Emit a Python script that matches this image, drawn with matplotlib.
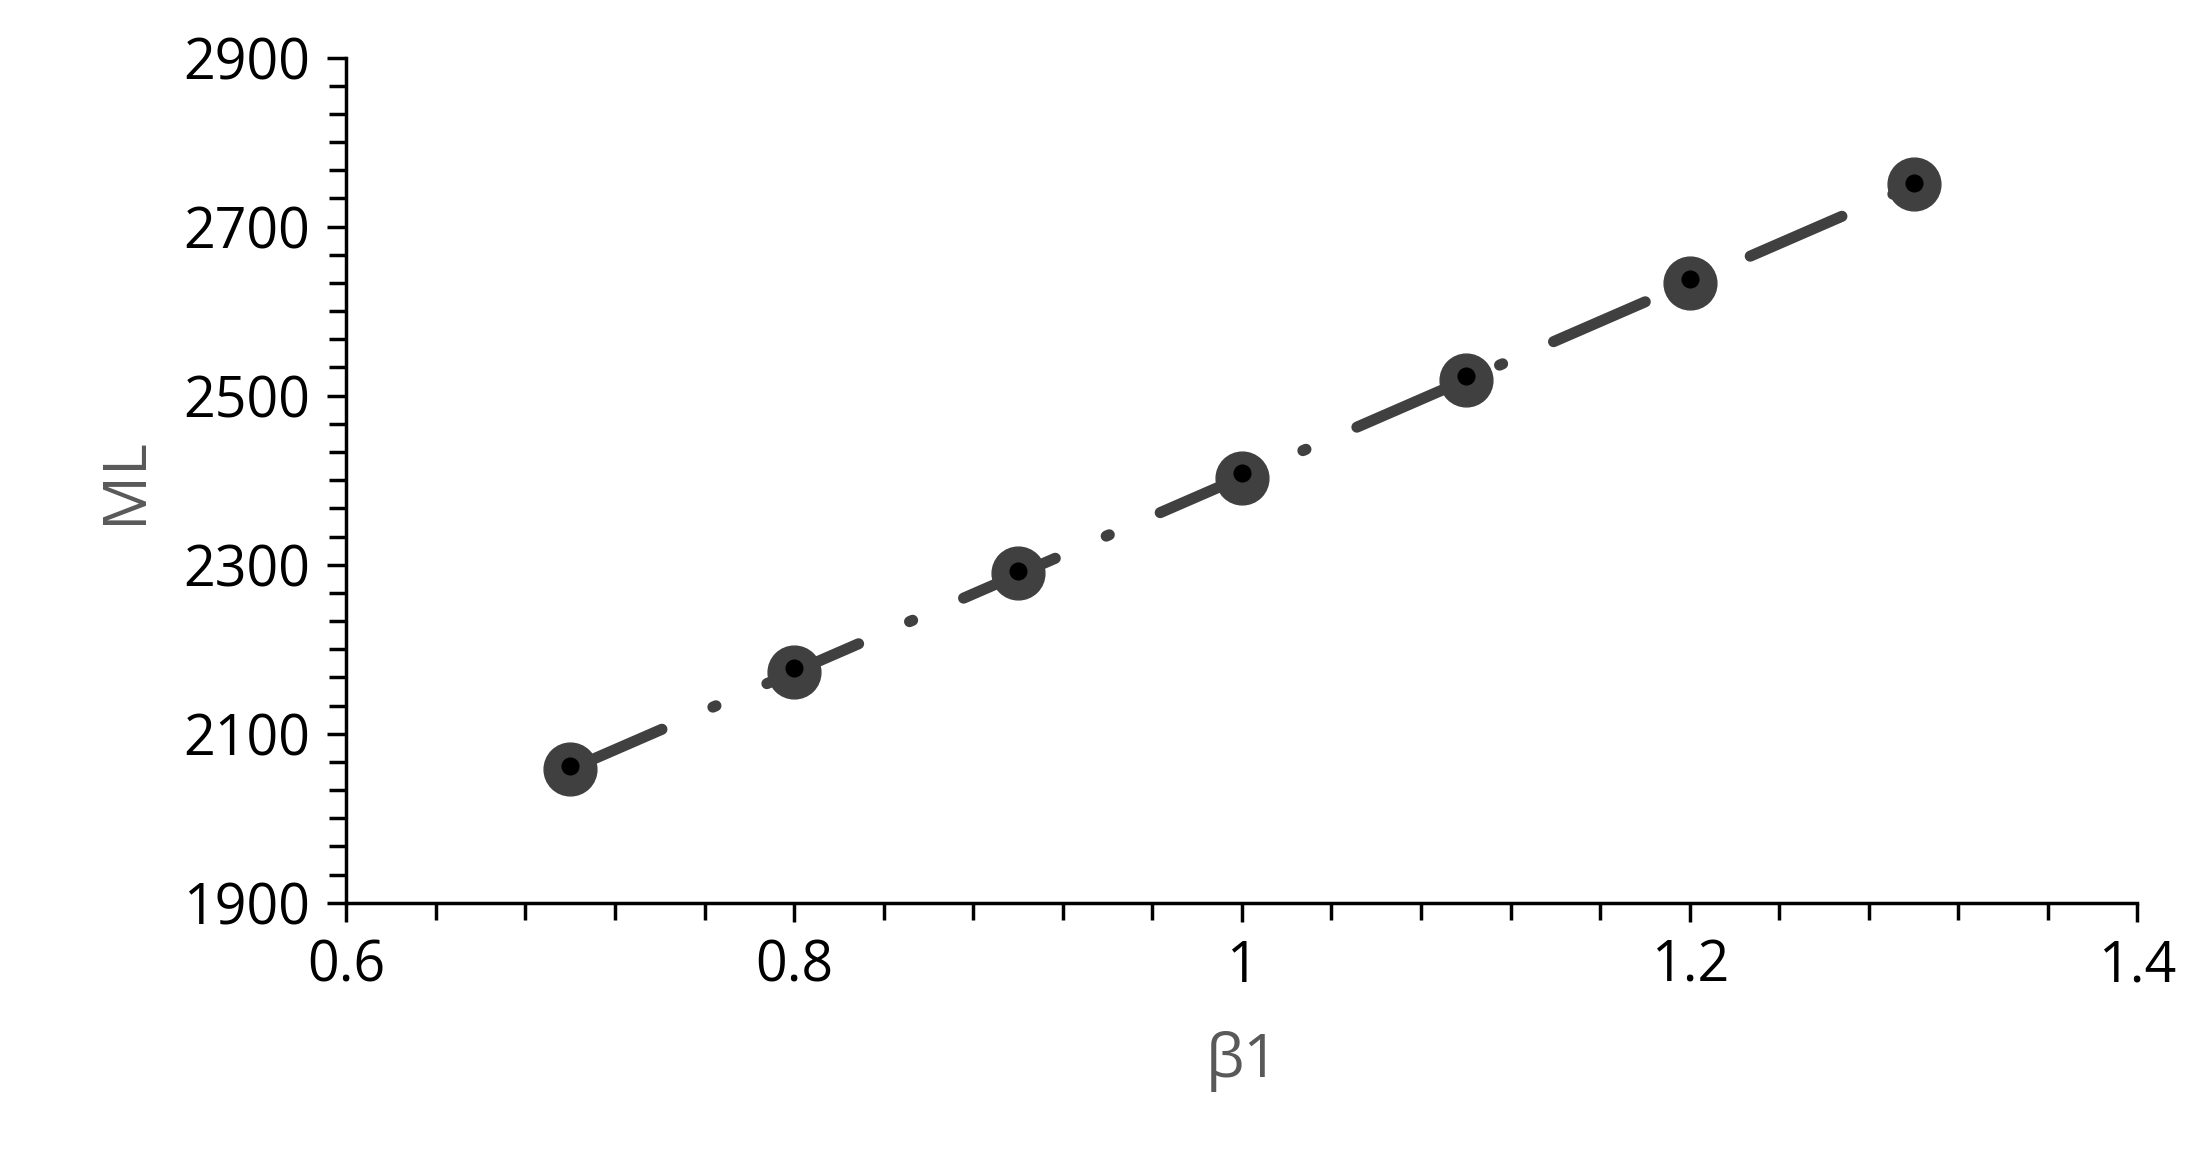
import matplotlib.pyplot as plt
from matplotlib.ticker import MultipleLocator, FixedLocator
import numpy as np

beta1 = [0.7, 0.8, 0.9, 1.0, 1.1, 1.2, 1.3]
ml_big = [2058, 2173, 2290, 2403, 2518, 2633, 2750]
ml_small = [2062, 2178, 2292, 2408, 2523, 2638, 2752]
y_ticks = [1900, 2100, 2300, 2500, 2700, 2900]
x_ticks = [0.6, 0.8, 1.0, 1.2, 1.4]
x_labels = ['0.6', '0.8', '1', '1.2', '1.4']

plt.rcParams['font.family'] = ['Open Sans', 'DejaVu Sans']

fig = plt.figure(figsize=(21.99, 11.74), dpi=100)
ax = fig.add_axes([0.1575, 0.231, 0.8145, 0.72])

# trend line
k, b = np.polyfit(beta1, ml_big, 1)
xs = np.array([beta1[0], beta1[-1]])
ax.plot(xs, k * xs + b, color='#404040', lw=8, dashes=(9, 5, 0.3, 5),
        dash_capstyle='round', solid_capstyle='round', zorder=1)

ax.plot(beta1, ml_big, 'o', color='#404040', ms=38, zorder=2)
ax.plot(beta1, ml_small, 'o', color='black', ms=12, zorder=3)

ax.set_xlim(0.6, 1.4)
ax.set_ylim(1900, 2900)
ax.set_xticks(x_ticks)
ax.set_xticklabels(x_labels)
ax.xaxis.set_minor_locator(MultipleLocator(0.04))
ax.yaxis.set_major_locator(FixedLocator(y_ticks))
ax.yaxis.set_minor_locator(FixedLocator(list(np.arange(1900, 2901, 200 / 6))))

for s in ['top', 'right']:
    ax.spines[s].set_visible(False)
for s in ['left', 'bottom']:
    ax.spines[s].set_linewidth(2.5)

ax.tick_params(which='both', direction='out', width=2.5, labelsize=40, pad=12)
ax.tick_params(which='major', length=14)
ax.tick_params(which='minor', length=12)

ax.set_xlabel('β1', fontsize=44, color='#595959', labelpad=25)
ax.set_ylabel('ML', fontsize=44, color='#595959', labelpad=20)

fig.savefig('out.png', dpi=100)
